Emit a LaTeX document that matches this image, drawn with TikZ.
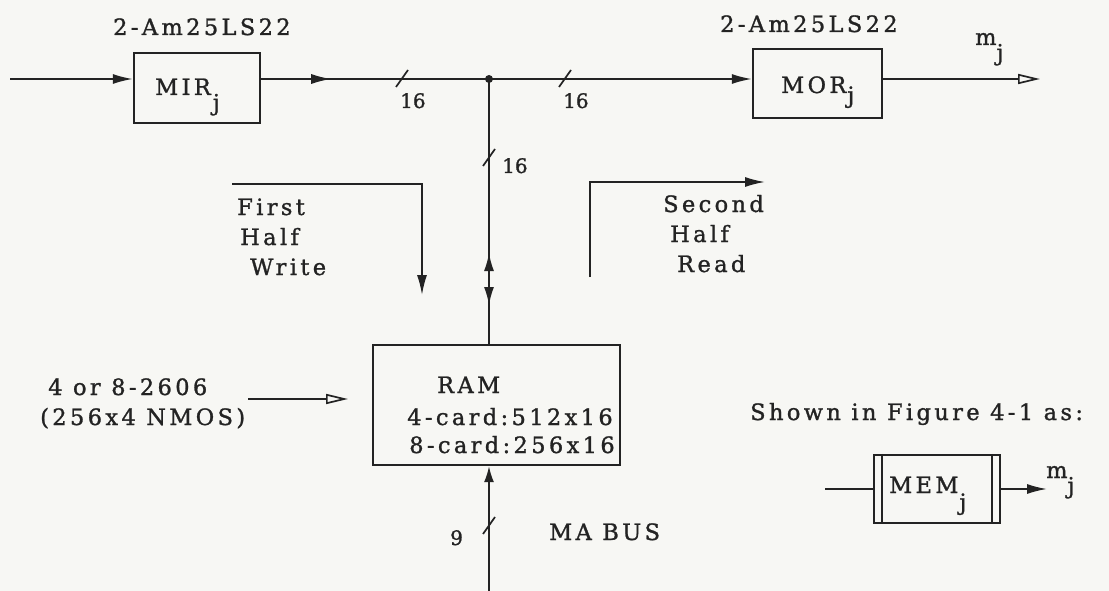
\documentclass[tikz,border=0pt]{standalone}
\usepackage{fontspec}
\newfontfamily\twfont{DejaVu Serif}[LetterSpace=15,FakeBold=1.2]
\newfontfamily\numfont{DejaVu Serif}[FakeBold=1.2]
\usetikzlibrary{arrows.meta,decorations.markings}
\definecolor{ink}{RGB}{35,35,35}
\definecolor{paper}{RGB}{247,247,244}
\newcommand{\lowj}[1]{\raisebox{-#1pt}{j}}
\begin{document}
\begin{tikzpicture}[x=1pt,y=-1pt,
  txt/.style={font=\twfont\fontsize{22.5}{26}\selectfont, text=ink, inner sep=0pt, anchor=base west},
  num/.style={font=\numfont\fontsize{20}{24}\selectfont, text=ink, inner sep=0pt, anchor=base west},
  blk/.style={draw=ink, line width=2.4pt, inner sep=0pt},
  wire/.style={draw=ink, line width=1.7pt},
  ftip/.style={-{Latex[length=20pt,width=10pt]}},
  otip/.style={-{Triangle[open,length=22pt,width=10pt]}},
  slashmark/.style={draw=ink, line width=1.7pt},
  midtip/.style={postaction={decorate}, decoration={markings, mark=at position #1 with {\arrow{Latex[length=20pt,width=10pt]}}}},
]
\fill[paper] (0,0) rectangle (1109,591);
\useasboundingbox (0,0) rectangle (1109,591);

% blocks
\node[blk, minimum width=126pt, minimum height=70pt] (mir) at (197,88) {};
\node[blk, minimum width=129pt, minimum height=69pt] (mor) at (817.5,83.5) {};
\node[blk, minimum width=247pt, minimum height=120pt] (ram) at (496.5,405) {};
\node[blk, minimum width=126pt, minimum height=68pt] (mem) at (937,489) {};
\draw[ink, line width=2.4pt] ([xshift=9pt]mem.north west) -- ([xshift=9pt]mem.south west);
\draw[ink, line width=2.4pt] ([xshift=-9pt]mem.north east) -- ([xshift=-9pt]mem.south east);

% texts
\node[txt] (lab1) at (113,35) {2-Am25LS22};
\node[txt] (lab2) at (720,32) {2-Am25LS22};
\node[txt] (mirt) at (155,95) {MIR\hspace{2pt}\lowj{15.5}};
\node[txt] (mort) at (781,93) {MOR\hspace{1pt}\lowj{10}};
\node[txt] (mout) at (975,45) {m\lowj{15.5}};
\node[num] (n16a) at (400,108) {16};
\node[num] (n16b) at (563,108) {16};
\node[num] (n16c) at (502,173) {16};
\node[txt] (fw1) at (237,215) {First};
\node[txt] (fw2) at (240,245) {Half};
\node[txt] (fw3) at (250,275) {Write};
\node[txt] (sr1) at (663,212) {Second};
\node[txt] (sr2) at (670,242) {Half};
\node[txt] (sr3) at (677,272) {Read};
\node[txt] (chip1) at (48,395) {4 or 8-2606};
\node[txt] (chip2) at (40,425) {(256x4 NMOS)};
\node[txt] (ramt1) at (437,393) {RAM};
\node[txt, anchor=base] (ramt2) at (510,425) {4-card:512x16};
\node[txt, anchor=base] (ramt3) at (512,453) {8-card:256x16};
\node[num] (n9) at (450,545) {9};
\node[txt] (mabus) at (549,540) {MA BUS};
\node[txt] (shown) at (750,420) {Shown in Figure 4-1 as:};
\node[txt] (memt) at (889,493) {MEM\hspace{1pt}\lowj{17}};
\node[txt] (mout2) at (1046,478) {m\lowj{15.5}};

% coordinates
\coordinate (in) at (10,79);
\coordinate (junc) at (489,79);
\coordinate (out) at (1040,79);
\coordinate (fwa) at (232,184);
\coordinate (fwb) at (422,184);
\coordinate (fwc) at (422,295);
\coordinate (sra) at (590,277);
\coordinate (srb) at (590,182);
\coordinate (src) at (765,182);
\coordinate (chipa) at (248,399);
\coordinate (chipb) at (348,399);
\coordinate (busin) at (489,591);
\coordinate (memin) at (825,489);
\coordinate (memout) at (1047,489);
\coordinate (s1) at (402,79);
\coordinate (s2) at (565,79);
\coordinate (s3) at (489,158);
\coordinate (s4) at (489,526);

% connectors
\draw[wire, ftip] (in) -- (mir.west |- in);
\draw[wire, midtip=70pt] (mir.east |- in) -- (junc);
\draw[wire, ftip] (junc) -- (mor.west |- junc);
\draw[wire, otip] (mor.east |- out) -- (out);
\draw[wire, postaction={decorate}, decoration={markings,
    mark=at position 174pt with {\arrowreversed{Latex[length=18pt,width=10pt]}},
    mark=at position 226pt with {\arrow{Latex[length=18pt,width=10pt]}}}]
  (junc) -- (junc |- ram.north);
\draw[wire, ftip] (fwa) -- (fwb) -- (fwc);
\draw[wire, ftip] (sra) -- (srb) -- (src);
\draw[wire, otip] (chipa) -- (chipb);
\draw[wire, -{Latex[length=16pt,width=10pt]}] (busin) -- (busin |- ram.south);
\draw[wire] (memin) -- (memin -| mem.west);
\draw[wire, ftip] (memout -| mem.east) -- (memout);
\fill[ink] (junc) circle (4pt);

% bus width slashes
\foreach \s in {s1,s2,s3,s4}
  \draw[slashmark] ([shift={(-6,8)}]\s) -- ([shift={(6,-9)}]\s);
\end{tikzpicture}
\end{document}
